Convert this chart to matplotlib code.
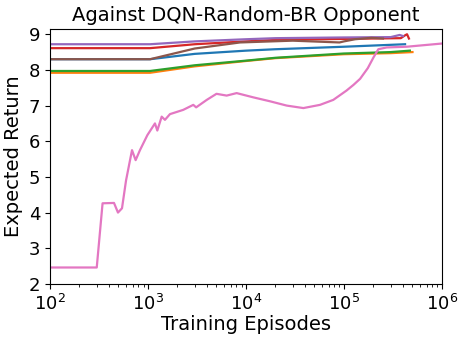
import matplotlib
matplotlib.use("Agg")
import matplotlib.pyplot as plt

# episodes / expected return
blue_x = [100, 1050, 3000, 10000, 20000, 100000, 420000]
blue_y = [8.30, 8.30, 8.45, 8.54, 8.58, 8.65, 8.72]

orange_x = [100, 1050, 3000, 10000, 20000, 100000, 300000, 500000]
orange_y = [7.92, 7.92, 8.10, 8.25, 8.33, 8.44, 8.47, 8.50]

green_x = [100, 1050, 3000, 10000, 20000, 100000, 300000, 470000]
green_y = [7.97, 7.97, 8.13, 8.26, 8.34, 8.46, 8.50, 8.54]

red_x = [100, 1050, 3000, 10000, 20000, 100000, 380000, 420000, 440000, 460000]
red_y = [8.61, 8.61, 8.72, 8.80, 8.84, 8.87, 8.89, 8.97, 9.0, 8.88]

purple_x = [100, 1050, 3000, 10000, 20000, 100000, 300000, 370000, 400000]
purple_y = [8.72, 8.72, 8.80, 8.86, 8.89, 8.91, 8.92, 8.98, 8.95]

brown_x = [100, 1050, 3000, 8700, 30000, 90000, 100000, 130000, 190000, 250000]
brown_y = [8.30, 8.30, 8.60, 8.77, 8.82, 8.77, 8.80, 8.86, 8.90, 8.88]

pink_x = [100, 300, 344, 450, 494, 543, 597, 687, 748, 828, 985, 1178, 1245,
          1380, 1490, 1675, 2290, 2900, 3100, 3980, 5000, 6350, 8030, 11900,
          17600, 26000, 38500, 56900, 77800, 106000, 125000, 146000, 175000,
          200000, 224000, 273000, 436000, 1000000]
pink_y = [2.46, 2.46, 4.26, 4.27, 4.00, 4.12, 4.90, 5.75, 5.47, 5.75, 6.17,
          6.50, 6.30, 6.69, 6.60, 6.76, 6.88, 7.02, 6.95, 7.16, 7.33, 7.28,
          7.35, 7.23, 7.12, 7.00, 6.93, 7.02, 7.16, 7.42, 7.58, 7.75, 8.05,
          8.35, 8.58, 8.63, 8.65, 8.74]

fig = plt.figure(figsize=(4.65, 3.4), dpi=100)
ax = fig.add_axes([0.1075, 0.165, 0.843, 0.75])

series = [
    (blue_x, blue_y, "C0"),
    (orange_x, orange_y, "C1"),
    (green_x, green_y, "C2"),
    (red_x, red_y, "C3"),
    (purple_x, purple_y, "C4"),
    (brown_x, brown_y, "C5"),
    (pink_x, pink_y, "C6"),
]
for xs, ys, c in series:
    ax.plot(xs, ys, color=c, linewidth=1.6)

ax.set_xscale("log")
ax.set_xlim(1e2, 1e6)
ax.set_ylim(2, 9.15)
ax.set_yticks([2, 3, 4, 5, 6, 7, 8, 9])
ax.tick_params(labelsize=13)
ax.set_title("Against DQN-Random-BR Opponent", fontsize=14)
ax.set_xlabel("Training Episodes", fontsize=14, labelpad=1)
ax.set_ylabel("Expected Return", fontsize=14)

fig.savefig("out.png", dpi=100)
